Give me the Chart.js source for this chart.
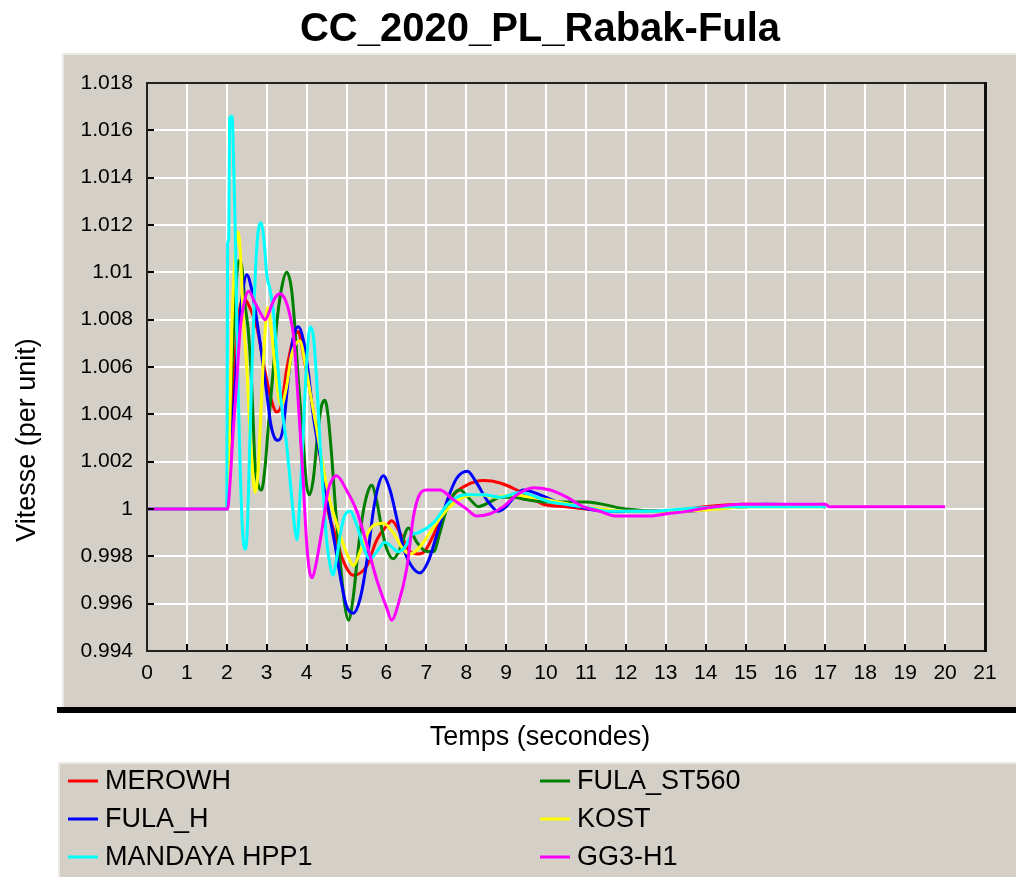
<!DOCTYPE html>
<html>
<head>
<meta charset="utf-8">
<title>CC_2020_PL_Rabak-Fula</title>
<script src="https://cdn.jsdelivr.net/npm/chart.js@4.4.1/dist/chart.umd.min.js"></script>
<style>
  html, body { margin: 0; padding: 0; background: #fff; }
  #speedChart { display: block; }
</style>
</head>
<body>
<canvas id="speedChart" width="1016" height="877"></canvas>
<script>
// TEXTS AND TICKS
const chartTitle = 'CC_2020_PL_Rabak-Fula';
const xTitle = 'Temps (secondes)';
const yTitle = 'Vitesse (per unit)';
const xTicks = [0, 1, 2, 3, 4, 5, 6, 7, 8, 9, 10, 11, 12, 13, 14, 15, 16, 17, 18, 19, 20, 21];
const yTicks = [0.994, 0.996, 0.998, 1, 1.002, 1.004, 1.006, 1.008, 1.01, 1.012, 1.014, 1.016, 1.018];

// SERIES (time in s, speed in pu)
const tMerowh = [0, 2.0, 2.1, 2.2, 2.3, 2.42, 2.58, 2.75, 2.96, 3.1, 3.25, 3.37, 3.5, 3.67, 3.79, 3.92, 4.04, 4.17, 4.3, 4.54, 4.7, 4.92, 5.17, 5.35, 5.51, 5.76, 6.01, 6.13, 6.34, 6.59, 6.8, 6.95, 7.18, 7.43, 7.68, 8.0, 8.43, 8.85, 9.27, 9.6, 9.93, 10.5, 11.0, 12.0, 13.0, 14.0, 15.0, 17.0];
const vMerowh = [1.0, 1.0, 1.003, 1.0062, 1.0082, 1.0089, 1.0085, 1.0077, 1.0058, 1.0047, 1.0041, 1.0044, 1.0059, 1.0072, 1.0075, 1.0065, 1.0054, 1.0041, 1.0027, 0.9999, 0.999, 0.9978, 0.9972, 0.9973, 0.9976, 0.9987, 0.9993, 0.9995, 0.999, 0.9982, 0.9981, 0.9982, 0.9989, 0.9999, 1.0006, 1.001, 1.0012, 1.0011, 1.0008, 1.0005, 1.0002, 1.0001, 1.0, 0.9999, 0.9999, 1.0001, 1.0002, 1.0001];

const tFulaSt = [0, 2.0, 2.08, 2.2, 2.3, 2.38, 2.46, 2.54, 2.62, 2.67, 2.71, 2.79, 2.87, 2.96, 3.04, 3.17, 3.25, 3.37, 3.5, 3.62, 3.71, 3.79, 3.92, 4.0, 4.07, 4.17, 4.29, 4.38, 4.46, 4.54, 4.63, 4.73, 4.84, 4.96, 5.05, 5.17, 5.3, 5.42, 5.55, 5.63, 5.76, 5.88, 6.01, 6.17, 6.34, 6.55, 6.76, 7.01, 7.18, 7.34, 7.51, 7.72, 7.84, 8.1, 8.3, 8.6, 8.85, 9.18, 9.5, 10.0, 11.0, 12.0, 13.0, 14.0, 15.0, 17.0];
const vFulaSt = [1.0, 1.0, 1.004, 1.0085, 1.0105, 1.0102, 1.0086, 1.0075, 1.0054, 1.0033, 1.0018, 1.001, 1.0008, 1.0018, 1.0035, 1.006, 1.0078, 1.0093, 1.01, 1.0093, 1.0076, 1.0055, 1.0027, 1.001, 1.0006, 1.0013, 1.0034, 1.0044, 1.0046, 1.0039, 1.0022, 0.9999, 0.9978, 0.9959, 0.9953, 0.9963, 0.9984, 0.9999, 1.0008, 1.001, 1.0003, 0.9992, 0.9983, 0.9979, 0.9983, 0.9992, 0.9986, 0.9982, 0.9982, 0.999, 1.0, 1.0007, 1.0008, 1.0004, 1.0001, 1.0003, 1.0005, 1.0005, 1.0004, 1.0003, 1.0003, 1.0, 0.9999, 1.0, 1.0001, 1.0002];

const tFulaH = [0, 2.0, 2.08, 2.2, 2.3, 2.4, 2.5, 2.62, 2.75, 2.87, 3.0, 3.1, 3.2, 3.29, 3.41, 3.54, 3.66, 3.79, 3.91, 4.04, 4.17, 4.29, 4.41, 4.54, 4.71, 4.88, 5.0, 5.17, 5.34, 5.51, 5.67, 5.8, 5.92, 6.09, 6.26, 6.42, 6.59, 6.84, 7.05, 7.26, 7.51, 7.76, 8.03, 8.26, 8.51, 8.8, 9.0, 9.2, 9.43, 9.85, 10.27, 10.77, 11.5, 12.5, 13.5, 14.5, 15.5, 17.0];
const vFulaH = [1.0, 1.0, 1.002, 1.005, 1.0075, 1.0092, 1.0099, 1.0093, 1.008, 1.0066, 1.0049, 1.0036, 1.003, 1.0029, 1.0034, 1.0055, 1.0072, 1.0077, 1.0072, 1.0058, 1.0039, 1.0027, 1.0017, 1.0001, 0.9985, 0.9968, 0.9959, 0.9956, 0.9962, 0.9978, 0.9999, 1.001, 1.0014, 1.0008, 0.9996, 0.9984, 0.9977, 0.9973, 0.9978, 0.9989, 1.0003, 1.0013, 1.0016, 1.0011, 1.0004, 0.9999, 1.0001, 1.0005, 1.0008, 1.0006, 1.0003, 1.0001, 0.9999, 0.9999, 0.9999, 1.0001, 1.0002, 1.0001];

const tKost = [0, 2.0, 2.06, 2.12, 2.2, 2.28, 2.34, 2.41, 2.5, 2.58, 2.67, 2.71, 2.79, 2.87, 2.96, 3.02, 3.12, 3.22, 3.3, 3.37, 3.5, 3.62, 3.83, 3.96, 4.09, 4.25, 4.42, 4.59, 4.75, 4.92, 5.09, 5.17, 5.34, 5.51, 5.67, 5.92, 6.17, 6.42, 6.59, 6.84, 7.09, 7.34, 7.59, 7.93, 8.35, 8.76, 9.18, 9.6, 10.0, 10.9, 12.3, 13.3, 14.3, 15.0, 17.0];
const vKost = [1.0, 1.0, 1.0025, 1.0072, 1.0105, 1.0117, 1.0108, 1.0082, 1.006, 1.0033, 1.0011, 1.0007, 1.0018, 1.0047, 1.0075, 1.0085, 1.0075, 1.0058, 1.0047, 1.0044, 1.0052, 1.0065, 1.0071, 1.0062, 1.0049, 1.0034, 1.0017, 1.0003, 0.9994, 0.9985, 0.9978, 0.9976, 0.9982, 0.9989, 0.9993, 0.9994, 0.999, 0.9983, 0.9981, 0.9984, 0.999, 0.9996, 1.0001, 1.0005, 1.0006, 1.0005, 1.0006, 1.0005, 1.0004, 1.0001, 0.9999, 0.9999, 1.0, 1.0001, 1.0001];

const tMandaya = [0, 2.0, 2.02, 2.05, 2.07, 2.13, 2.18, 2.22, 2.27, 2.33, 2.39, 2.46, 2.51, 2.56, 2.62, 2.69, 2.76, 2.86, 2.94, 3.0, 3.08, 3.17, 3.25, 3.37, 3.5, 3.62, 3.71, 3.76, 3.83, 3.92, 4.0, 4.09, 4.17, 4.25, 4.34, 4.42, 4.5, 4.59, 4.66, 4.75, 4.85, 4.95, 5.09, 5.26, 5.42, 5.59, 5.76, 5.96, 6.13, 6.3, 6.47, 6.63, 6.8, 7.17, 7.59, 8.0, 8.43, 8.85, 9.35, 10.1, 10.93, 11.6, 12.6, 13.4, 14.5, 15.4, 17.0];
const vMandaya = [1.0, 1.0, 1.0112, 1.0114, 1.0165, 1.0166, 1.014, 1.011, 1.006, 1.002, 0.9992, 0.9983, 0.999, 1.0018, 1.0054, 1.0089, 1.0113, 1.0121, 1.0112, 1.0099, 1.0093, 1.0083, 1.0066, 1.0044, 1.0027, 1.0006, 0.9991, 0.9987, 1.0004, 1.0034, 1.0062, 1.0077, 1.0073, 1.0055, 1.0027, 1.0006, 0.9987, 0.9976, 0.9972, 0.9979, 0.999, 0.9997, 0.9999, 0.9993, 0.9984, 0.9979, 0.9982, 0.9986, 0.9984, 0.9982, 0.9984, 0.9989, 0.999, 0.9994, 1.0003, 1.0006, 1.0006, 1.0005, 1.0007, 1.0003, 1.0001, 0.9999, 0.9999, 1.0, 1.0001, 1.0001, 1.0001];

const tGg3 = [0, 2.02, 2.08, 2.16, 2.25, 2.33, 2.46, 2.55, 2.71, 2.87, 2.96, 3.1, 3.2, 3.33, 3.45, 3.58, 3.68, 3.78, 3.91, 4.0, 4.07, 4.13, 4.25, 4.41, 4.54, 4.66, 4.75, 5.0, 5.26, 5.51, 5.76, 6.01, 6.13, 6.3, 6.51, 6.67, 6.8, 7.0, 7.34, 7.67, 8.01, 8.26, 8.6, 8.93, 9.27, 9.68, 10.1, 10.52, 10.93, 11.35, 11.77, 12.18, 12.6, 13.02, 13.53, 13.85, 14.28, 14.86, 17.0, 17.1, 20.0];
const vGg3 = [1.0, 1.0, 1.0011, 1.0033, 1.0054, 1.0075, 1.0089, 1.0092, 1.0087, 1.0082, 1.008, 1.0085, 1.0089, 1.0091, 1.0089, 1.0082, 1.0072, 1.0048, 1.0013, 0.9986, 0.9974, 0.9971, 0.9978, 0.9994, 1.0008, 1.0013, 1.0014, 1.0008, 0.9999, 0.9985, 0.997, 0.9958, 0.9953, 0.996, 0.9975, 0.9996, 1.0005, 1.0008, 1.0008, 1.0004, 1.0, 0.9997, 0.9998, 1.0001, 1.0006, 1.0009, 1.0008, 1.0005, 1.0001, 0.9999, 0.9997, 0.9997, 0.9997, 0.9998, 0.9999, 1.0, 1.0001, 1.0002, 1.0002, 1.0001, 1.0001];

// legend order, row by row (two columns)
const seriesNames = ['MEROWH', 'FULA_ST560', 'FULA_H', 'KOST', 'MANDAYA HPP1', 'GG3-H1'];
const seriesColors = ['#ff0000', '#008000', '#0000ff', '#ffff00', '#00ffff', '#ff00ff'];
const seriesT = [tMerowh, tFulaSt, tFulaH, tKost, tMandaya, tGg3];
const seriesV = [vMerowh, vFulaSt, vFulaH, vKost, vMandaya, vGg3];

const PANEL = '#d4d0c8';
const FONT = "'Liberation Sans', Arial, sans-serif";
Chart.defaults.font.family = FONT;

const pts = (t, v) => t.map((x, i) => ({ x: x, y: v[i] }));

// BACKGROUND PANELS, FRAME, TITLES, LEGEND
const panels = {
  id: 'panels',
  beforeDraw(chart) {
    const { ctx, width, height } = chart;
    ctx.save();
    ctx.fillStyle = '#fff';
    ctx.fillRect(0, 0, width, height);
    // plot panel
    ctx.fillStyle = PANEL;
    ctx.fillRect(62, 53, width - 62, 654);
    ctx.fillStyle = '#ebe9e4';
    ctx.fillRect(62, 53, width - 62, 2);
    ctx.fillRect(62, 53, 2, 654);
    ctx.fillStyle = '#000';
    ctx.fillRect(57, 707, width - 57, 6);
    // legend panel
    ctx.fillStyle = PANEL;
    ctx.fillRect(58, 762, width - 58, height - 762);
    ctx.fillStyle = '#ebe9e4';
    ctx.fillRect(58, 762, width - 58, 2);
    ctx.fillRect(58, 762, 2, height - 762);
    ctx.restore();
  },
  afterDatasetsDraw(chart) {
    const { ctx, chartArea: a, scales } = chart;
    ctx.save();
    ctx.strokeStyle = '#000';
    ctx.lineWidth = 2;
    ctx.beginPath();
    scales.x.ticks.forEach(t => {
      const px = Math.round(scales.x.getPixelForValue(t.value));
      ctx.moveTo(px, a.bottom);
      ctx.lineTo(px, a.bottom - 7);
    });
    scales.y.ticks.forEach(t => {
      const py = Math.round(scales.y.getPixelForValue(t.value));
      ctx.moveTo(a.left, py);
      ctx.lineTo(a.left + 7, py);
    });
    ctx.stroke();
    ctx.strokeStyle = '#222';
    ctx.strokeRect(a.left, a.top, a.right - a.left, a.bottom - a.top);
    ctx.fillStyle = '#111';
    ctx.fillRect(a.right - 1, a.top - 1, 3, a.bottom - a.top + 2);
    ctx.restore();
  },
  afterDraw(chart) {
    const { ctx } = chart;
    ctx.save();
    ctx.fillStyle = '#000';
    ctx.textAlign = 'center';
    ctx.textBaseline = 'middle';
    ctx.font = 'bold 40px ' + FONT;
    ctx.fillText(chartTitle, 540, 30);

    ctx.font = '27px ' + FONT;
    ctx.fillText(xTitle, 540, 738);
    ctx.save();
    ctx.translate(28, 440);
    ctx.rotate(-Math.PI / 2);
    ctx.fillText(yTitle, 0, 0);
    ctx.restore();

    const colX = [68, 540];
    const rowY = [781, 819, 857];
    ctx.textAlign = 'left';
    chart.data.datasets.forEach((ds, i) => {
      const lx = colX[i % 2];
      const ly = rowY[Math.floor(i / 2)];
      ctx.strokeStyle = ds.borderColor;
      ctx.lineWidth = 3;
      ctx.beginPath();
      ctx.moveTo(lx, ly);
      ctx.lineTo(lx + 30, ly);
      ctx.stroke();
      ctx.fillStyle = '#000';
      ctx.fillText(ds.label, lx + 37, ly + 1);
    });
    ctx.restore();
  }
};

// CHART
new Chart(document.getElementById('speedChart'), {
  type: 'line',
  plugins: [panels],
  data: {
    datasets: seriesNames.map((name, i) => ({
      label: name,
      data: pts(seriesT[i], seriesV[i]),
      borderColor: seriesColors[i],
      backgroundColor: seriesColors[i],
      borderWidth: 3,
      pointRadius: 0,
      fill: false,
      cubicInterpolationMode: 'monotone',
      order: seriesNames.length - i
    }))
  },
  options: {
    responsive: false,
    devicePixelRatio: 1,
    animation: false,
    layout: { padding: { left: 0, right: 31, top: 83, bottom: 0 } },
    plugins: {
      legend: { display: false },
      tooltip: { enabled: false },
      title: { display: false }
    },
    scales: {
      x: {
        type: 'linear',
        min: 0,
        max: 21,
        afterBuildTicks: s => { s.ticks = xTicks.map(v => ({ value: v })); },
        afterFit: s => { s.height = 226; },
        ticks: { color: '#000', font: { size: 21 }, padding: 10, autoSkip: false, maxRotation: 0 },
        grid: { color: '#fff', lineWidth: 2, drawTicks: false },
        border: { display: false }
      },
      y: {
        min: 0.994,
        max: 1.018,
        afterBuildTicks: s => { s.ticks = yTicks.map(v => ({ value: v })); },
        afterFit: s => { s.width = 147; },
        ticks: {
          color: '#000',
          font: { size: 21 },
          padding: 14,
          callback: v => String(+Number(v).toFixed(3))
        },
        grid: { color: '#fff', lineWidth: 2, drawTicks: false },
        border: { display: false }
      }
    }
  }
});
</script>
</body>
</html>
